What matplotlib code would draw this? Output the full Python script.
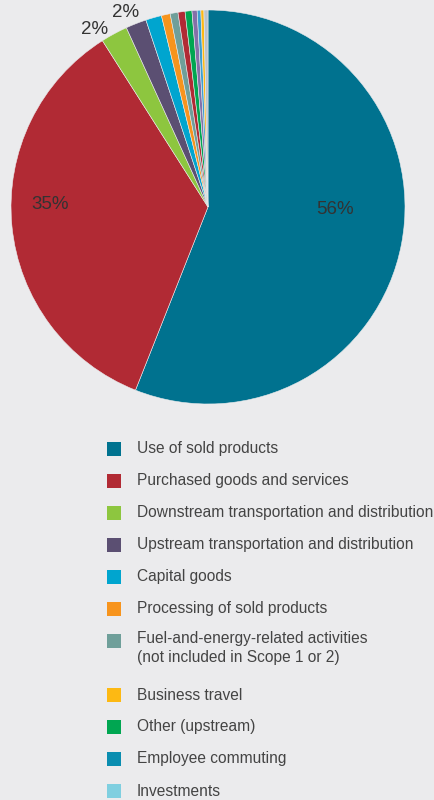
import numpy as np
import matplotlib.pyplot as plt
from matplotlib.patches import Rectangle

plt.rcParams['font.family'] = ['Liberation Sans', 'DejaVu Sans']

# Scope 3 categories, clockwise from 12 o'clock (share of emissions, %)
slice_labels = [
    'Use of sold products',
    'Purchased goods and services',
    'Downstream transportation and distribution',
    'Upstream transportation and distribution',
    'Capital goods',
    'Processing of sold products',
    'Fuel-and-energy-related activities\n(not included in Scope 1 or 2)',
    '_minor_red',
    'Other (upstream)',
    '_minor_purple',
    'Employee commuting',
    'Business travel',
    'Investments',
]
slice_values = [56.0, 35.0, 2.2, 1.7, 1.3, 0.72, 0.64, 0.58, 0.56, 0.42, 0.30, 0.25, 0.33]
slice_colors = ['#00728f', '#b12a34', '#8dc63f', '#5b4f72', '#00a5cf', '#f7941d',
                '#6f9f9a', '#b12a34', '#00a651', '#8470a8', '#3c9fd0', '#fdb913',
                '#b9c3cc']

# legend order and swatch colours
legend_labels = [
    'Use of sold products',
    'Purchased goods and services',
    'Downstream transportation and distribution',
    'Upstream transportation and distribution',
    'Capital goods',
    'Processing of sold products',
    'Fuel-and-energy-related activities\n(not included in Scope 1 or 2)',
    'Business travel',
    'Other (upstream)',
    'Employee commuting',
    'Investments',
]
legend_colors = ['#00728f', '#b12a34', '#8dc63f', '#5b4f72', '#00a5cf', '#f7941d',
                 '#6f9f9a', '#fdb913', '#00a651', '#0a8db0', '#7fcfe0']

# which slices get a % label: index -> (radius, angle in degrees)
pct_pos = {0: (0.645, -1), 1: (0.80, 179), 2: (1.07, 122.4), 3: (1.07, 112.9)}

bg = '#ebebed'
W, H = 435, 800
fig = plt.figure(figsize=(W / 100, H / 100), dpi=100, facecolor=bg)

cx, cy, r = 208, 207, 197
ax = fig.add_axes([(cx - r) / W, 1 - (cy + r) / H, 2 * r / W, 2 * r / H])
ax.set_facecolor(bg)
wedges, _ = ax.pie(slice_values, colors=slice_colors, startangle=90, counterclock=False,
                   radius=1, wedgeprops=dict(edgecolor=bg, linewidth=0.4))
ax.set_xlim(-1, 1)
ax.set_ylim(-1, 1)
ax.set_aspect('equal')
ax.axis('off')

for i, (rad, ang) in pct_pos.items():
    t = np.deg2rad(ang)
    ax.text(rad * np.cos(t), rad * np.sin(t), f'{round(slice_values[i])}%',
            ha='center', va='center', fontsize=13.5, color='#333333', clip_on=False)

# hand-built legend below the pie
y = 448.5
for lab, col in zip(legend_labels, legend_colors):
    fig.patches.append(Rectangle((107 / W, 1 - (y + 7) / H), 14 / W, 14 / H,
                                 transform=fig.transFigure, facecolor=col, edgecolor='none'))
    if '\n' in lab:
        fig.text(137 / W, 1 - (y - 9.5) / H, lab, ha='left', va='top', fontsize=11.2,
                 color='#444444', linespacing=1.35)
        y += 22.5
    else:
        fig.text(137 / W, 1 - y / H, lab, ha='left', va='center', fontsize=11.2,
                 color='#444444')
    y += 32

fig.savefig('out.png', dpi=100, facecolor=bg)
